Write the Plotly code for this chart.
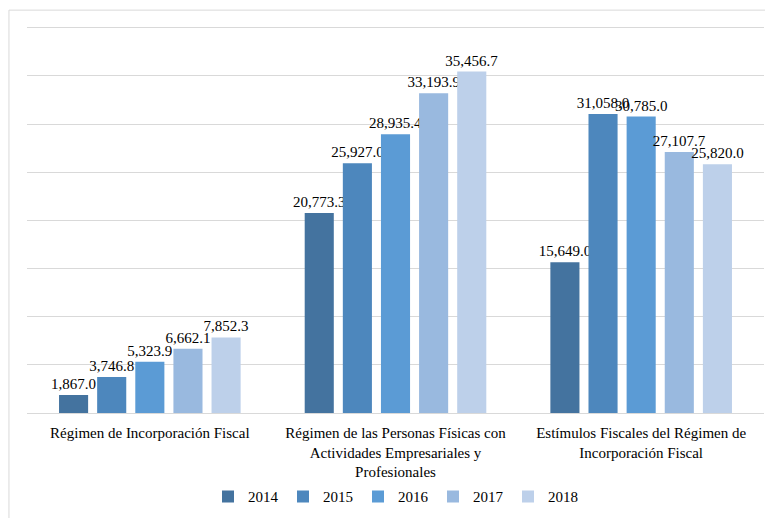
import plotly.graph_objects as go

# Data
categories = [
    "Régimen de Incorporación Fiscal",
    "Régimen de las Personas Físicas con<br>Actividades Empresariales y<br>Profesionales",
    "Estímulos Fiscales del Régimen de<br>Incorporación Fiscal",
]
years = ["2014", "2015", "2016", "2017", "2018"]
values_2014 = [1867.0, 20773.3, 15649.0]
values_2015 = [3746.8, 25927.0, 31058.0]
values_2016 = [5323.9, 28935.4, 30785.0]
values_2017 = [6662.1, 33193.9, 27107.7]
values_2018 = [7852.3, 35456.7, 25820.0]
series = [values_2014, values_2015, values_2016, values_2017, values_2018]
colors = ["#44739F", "#4D87BD", "#5B9BD5", "#99B9DF", "#BDD0EA"]

font_family = "Liberation Serif, DejaVu Serif, serif"

fig = go.Figure()
for year, vals, col in zip(years, series, colors):
    fig.add_trace(go.Bar(
        x=categories, y=vals, name=year,
        marker=dict(color=col, line=dict(width=0)),
        text=[f"{v:,.1f}" for v in vals],
        textposition="outside",
        textfont=dict(family=font_family, size=15, color="#000000"),
        constraintext="none",
        cliponaxis=False,
    ))

# page body has an 8px margin, so the figure is a bit smaller than the window
fig.update_layout(
    width=765, height=510,
    margin=dict(l=19, r=9, t=15, b=105, autoexpand=False),
    paper_bgcolor="white", plot_bgcolor="white",
    barmode="group", bargap=0.224, bargroupgap=0.237,
    font=dict(family=font_family, size=15, color="#000000"),
    xaxis=dict(showgrid=False, showline=True, linecolor="#D9D9D9", linewidth=1,
               ticks="", tickfont=dict(size=15), automargin=False,
               ticklabelstandoff=6),
    yaxis=dict(range=[0, 40500], tickvals=[5000 * i for i in range(1, 9)],
               showticklabels=False,
               showgrid=True, gridcolor="#D9D9D9", gridwidth=1,
               zeroline=False, showline=False, automargin=False),
    legend=dict(orientation="h", x=0.5, xanchor="center", y=-0.215, yanchor="middle",
                font=dict(size=15), entrywidth=30, entrywidthmode="pixels",
                traceorder="normal"),
    showlegend=True,
    shapes=[dict(type="rect", xref="paper", yref="paper",
                 x0=-0.0245, x1=1.0095, y0=-0.28, y1=1.033,
                 line=dict(color="#D9D9D9", width=1), fillcolor="rgba(0,0,0,0)",
                 layer="below")],
)

fig.write_html("out.html")
